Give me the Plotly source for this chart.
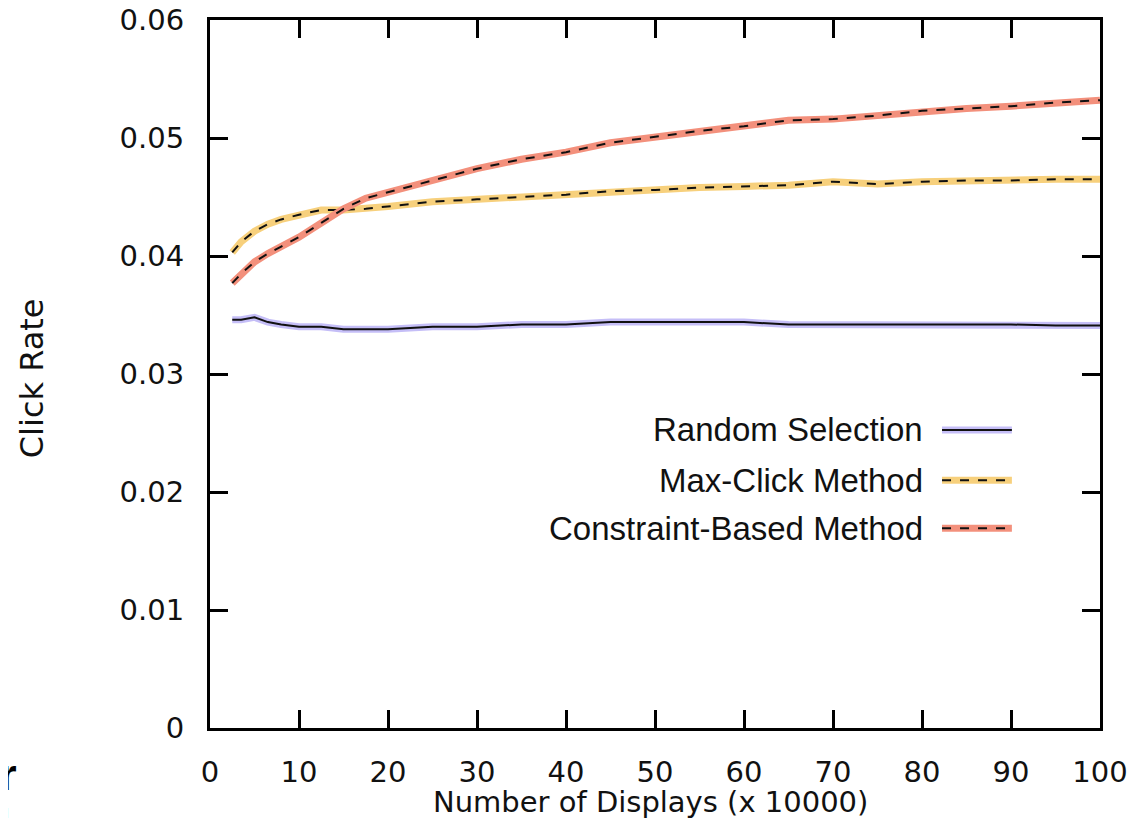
import plotly.graph_objects as go

# displays (x 10000)
displays = [2.5, 3.5, 5, 6.5, 8, 10, 12.5, 15, 17.5, 20, 25, 30, 35, 40, 45,
            50, 55, 60, 65, 70, 75, 80, 85, 90, 95, 100]

random_sel = [0.0346, 0.0346, 0.0348, 0.0344, 0.0342, 0.0340, 0.0340, 0.0338, 0.0338,
              0.0338, 0.0340, 0.0340, 0.0342, 0.0342, 0.0344, 0.0344, 0.0344, 0.0344,
              0.0342, 0.0342, 0.0342, 0.0342, 0.0342, 0.0342, 0.0341, 0.0341]

max_click = [0.0403, 0.0412, 0.0421, 0.0427, 0.0431, 0.0435, 0.0439, 0.0439, 0.0440,
             0.0442, 0.0446, 0.0448, 0.0450, 0.0452, 0.0455, 0.0456, 0.0458, 0.0459,
             0.0460, 0.0463, 0.0461, 0.0463, 0.0464, 0.0464, 0.0465, 0.0465]

constraint = [0.0377, 0.0385, 0.0395, 0.0402, 0.0408, 0.0416, 0.0428, 0.0440, 0.0449,
              0.0454, 0.0464, 0.0474, 0.0482, 0.0488, 0.0496, 0.0501, 0.0506, 0.0510,
              0.0515, 0.0516, 0.0519, 0.0523, 0.0525, 0.0527, 0.0530, 0.0532]

y_ticks = [0, 0.01, 0.02, 0.03, 0.04, 0.05, 0.06]
y_tick_labels = ["0", "0.01", "0.02", "0.03", "0.04", "0.05", "0.06"]
x_ticks = [0, 10, 20, 30, 40, 50, 60, 70, 80, 90, 100]

series = [
    ("Random Selection", random_sel, "#c5bef7", "solid"),
    ("Max-Click Method", max_click, "#f7d07c", "dash"),
    ("Constraint-Based Method", constraint, "#f3907c", "dash"),
]

FONT = "DejaVu Sans"
LEG_FONT = "Liberation Sans"

fig = go.Figure()

for name, vals, color, dash in series:
    fig.add_trace(go.Scatter(x=displays, y=vals, mode="lines", name=name,
                             line=dict(color=color, width=7), showlegend=False,
                             hoverinfo="skip"))
    fig.add_trace(go.Scatter(x=displays, y=vals, mode="lines", name=name,
                             line=dict(color="#111", width=2, dash=dash),
                             showlegend=False))

# legend drawn by hand: label on the left, sample on the right
legend_y = [0.421, 0.350, 0.282]
for (name, vals, color, dash), ly in zip(series, legend_y):
    fig.add_annotation(x=0.8034, y=ly, xref="paper", yref="paper", text=name,
                       showarrow=False, xanchor="right", yanchor="middle",
                       font=dict(family=LEG_FONT, size=33, color="#111"))
    fig.add_shape(type="line", xref="paper", yref="paper", x0=0.8225, x1=0.901,
                  y0=ly, y1=ly, line=dict(color=color, width=7))
    fig.add_shape(type="line", xref="paper", yref="paper", x0=0.8225, x1=0.901,
                  y0=ly, y1=ly, line=dict(color="#111", width=2, dash=dash))

# axis titles
fig.add_annotation(x=0.4955, y=-0.104, xref="paper", yref="paper",
                   text="Number of Displays (x 10000)", showarrow=False,
                   xanchor="center", yanchor="middle",
                   font=dict(family=FONT, size=29, color="#111"))
fig.add_annotation(x=-0.2, y=0.494, xref="paper", yref="paper", text="Click Rate",
                   showarrow=False, textangle=-90, xanchor="center", yanchor="middle",
                   font=dict(family=FONT, size=32, color="#111"))

# cropped text fragments at the bottom left edge
fig.add_annotation(x=-0.2145, y=-0.065, xref="paper", yref="paper", text="<b>er</b>",
                   showarrow=False, xanchor="right", yanchor="middle",
                   font=dict(family=LEG_FONT, size=44, color="#000"))
fig.add_annotation(x=-0.2225, y=-0.124, xref="paper", yref="paper", text="<b>u</b>",
                   showarrow=False, xanchor="right", yanchor="middle",
                   font=dict(family=LEG_FONT, size=40, color="#000"))

fig.update_layout(
    width=1137, height=818,
    margin=dict(l=202, r=45, t=12, b=98),
    paper_bgcolor="white", plot_bgcolor="white",
    font=dict(family=FONT, color="#111"),
)

axis_style = dict(showline=True, linecolor="black", linewidth=3, mirror="ticks",
                  ticks="inside", ticklen=18, tickwidth=3, tickcolor="black",
                  showgrid=False, zeroline=False, automargin=False,
                  ticklabeloverflow="allow",
                  tickfont=dict(family=FONT, size=29, color="#111"))

fig.update_xaxes(range=[0, 100], tickvals=x_ticks, ticklabelstandoff=16, **axis_style)
fig.update_yaxes(range=[0, 0.06], tickvals=y_ticks, ticktext=y_tick_labels,
                 ticklabelstandoff=17, **axis_style)

fig.write_html("out.html")
